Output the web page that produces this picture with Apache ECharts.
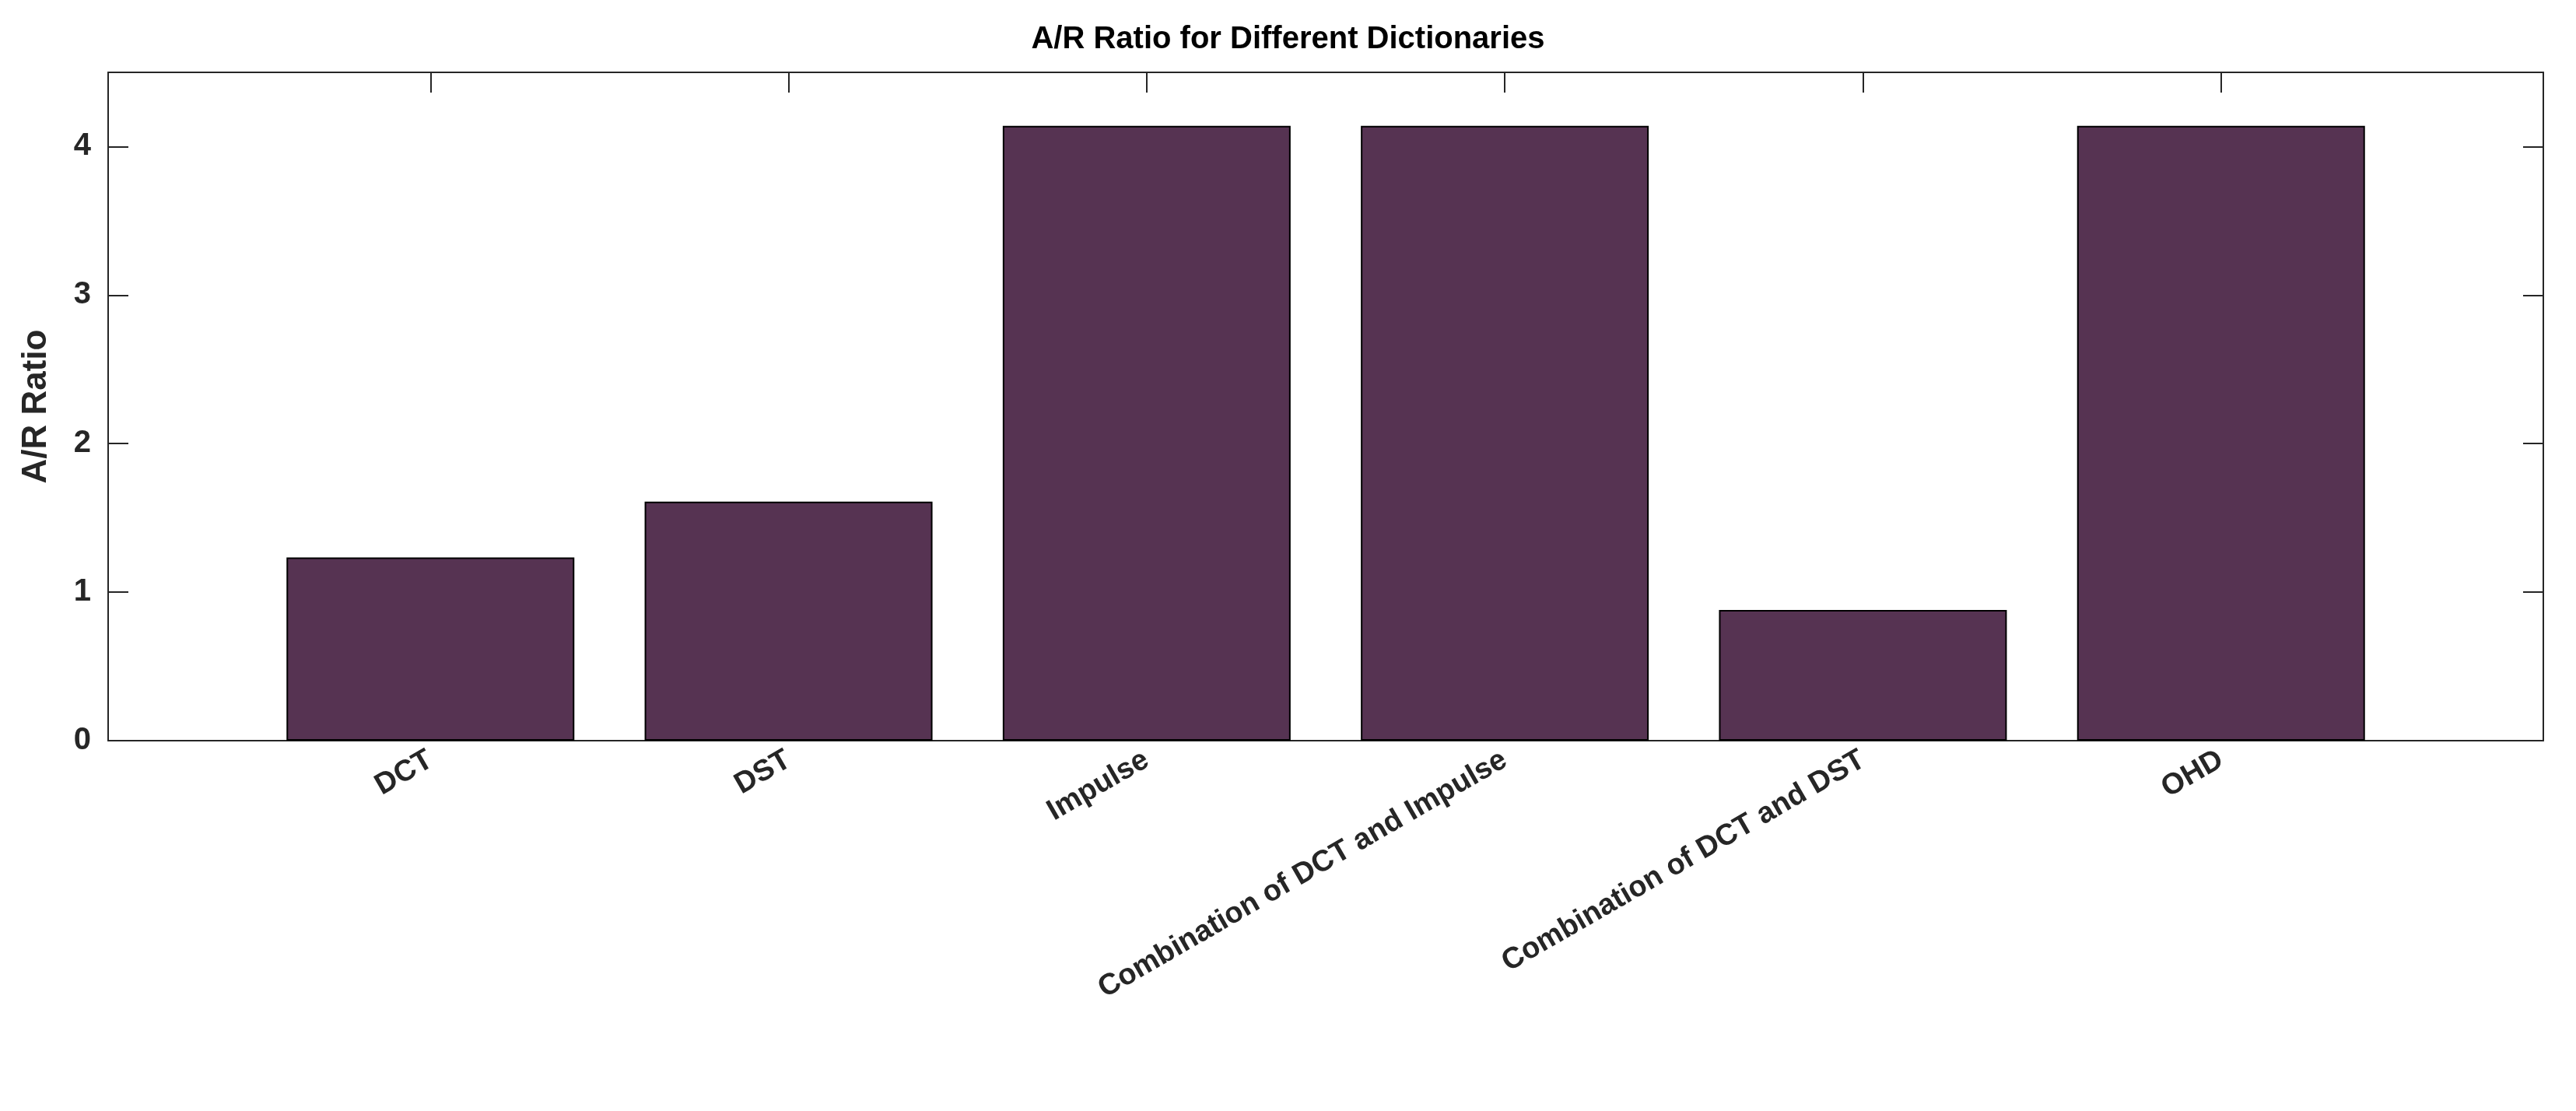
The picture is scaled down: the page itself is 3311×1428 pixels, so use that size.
<!DOCTYPE html>
<html>
<head>
<meta charset="utf-8">
<script src="https://cdn.jsdelivr.net/npm/echarts@6/dist/echarts.min.js"></script>
<style>html,body{margin:0;padding:0;background:#fff}#main{width:3311px;height:1428px}</style>
</head>
<body>
<div id="main"></div>
<script>
// data
var categories = ['DCT', 'DST', 'Impulse', 'Combination of DCT and Impulse', 'Combination of DCT and DST', 'OHD'];
var ratios = [1.234, 1.61, 4.14, 4.14, 0.88, 4.14];
var yTicks = [0, 1, 2, 3, 4];

var positions = categories.map(function (c, i) { return i + 1; });
var barData = ratios.map(function (v, i) { return [positions[i], v]; });

var myChart = echarts.init(document.getElementById('main'));
var font = 'Arial, "Liberation Sans", sans-serif';

option = {
  animation: false,
  title: {
    text: 'A/R Ratio for Different Dictionaries',
    left: 'center',
    top: 26,
    textStyle: { fontFamily: font, fontWeight: 'bold', fontSize: 40, color: '#000' }
  },
  grid: { left: 139, right: 42, top: 93, bottom: 476 },
  xAxis: [{
    type: 'value',
    min: 0.1,
    max: 6.9,
    axisLine: { show: true, lineStyle: { color: '#262626', width: 2 } },
    axisTick: { show: true, inside: true, length: 26, customValues: positions, lineStyle: { color: '#262626', width: 2 } },
    axisLabel: {
      customValues: positions,
      rotate: 30,
      margin: 22,
      fontFamily: font, fontWeight: 'bold', fontSize: 38, color: '#262626',
      formatter: function (v) { return categories[Math.round(v) - 1] || ''; }
    },
    splitLine: { show: false }
  }, {
    type: 'value',
    position: 'top',
    min: 0.1,
    max: 6.9,
    axisLine: { show: true, onZero: false, lineStyle: { color: '#262626', width: 2 } },
    axisTick: { show: true, inside: true, length: 26, customValues: positions, lineStyle: { color: '#262626', width: 2 } },
    axisLabel: { show: false },
    splitLine: { show: false }
  }],
  yAxis: [{
    type: 'value',
    min: 0,
    max: 4.5,
    name: 'A/R Ratio',
    nameLocation: 'middle',
    nameGap: 70,
    nameTextStyle: { fontFamily: font, fontWeight: 'bold', fontSize: 44, color: '#262626' },
    axisLine: { show: true, lineStyle: { color: '#262626', width: 2 } },
    axisTick: { show: true, inside: true, length: 26, customValues: yTicks, lineStyle: { color: '#262626', width: 2 } },
    axisLabel: { customValues: yTicks, margin: 22, fontFamily: font, fontWeight: 'bold', fontSize: 40, color: '#262626' },
    splitLine: { show: false }
  }, {
    type: 'value',
    position: 'right',
    min: 0,
    max: 4.5,
    axisLine: { show: true, onZero: false, lineStyle: { color: '#262626', width: 2 } },
    axisTick: { show: true, inside: true, length: 26, customValues: yTicks, lineStyle: { color: '#262626', width: 2 } },
    axisLabel: { show: false },
    splitLine: { show: false }
  }],
  series: [{
    type: 'bar',
    data: barData,
    barWidth: 370,
    itemStyle: { color: '#563352', borderColor: '#000', borderWidth: 2 }
  }]
};

myChart.setOption(option);
</script>
</body>
</html>
